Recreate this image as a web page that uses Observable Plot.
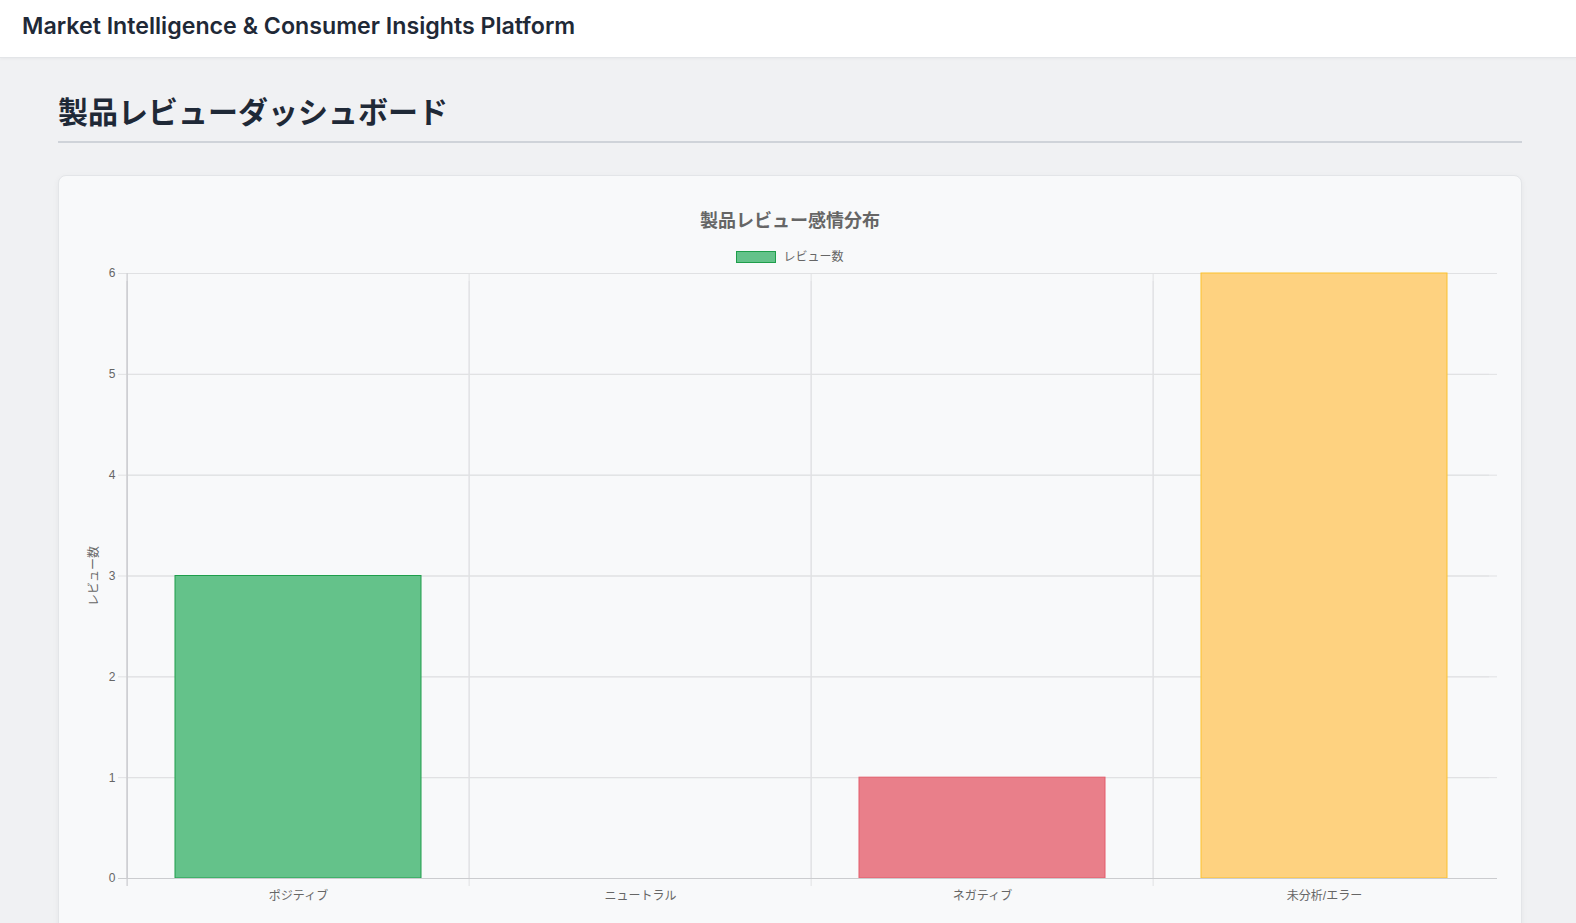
<!DOCTYPE html>
<html><head><meta charset="utf-8">
<script src="https://cdn.jsdelivr.net/npm/d3@7"></script>
<script src="https://cdn.jsdelivr.net/npm/@observablehq/plot@0.6"></script>
<style>
html,body{margin:0;padding:0;}
body{width:1576px;height:923px;overflow:hidden;background:#f0f1f3;position:relative;font-family:"Noto Sans CJK JP",sans-serif;}
#hdr{position:absolute;left:0;top:0;width:1576px;height:57px;background:#fff;border-bottom:1px solid #e3e5e8;box-shadow:0 1px 3px rgba(0,0,0,0.04);}
#hdr span{position:absolute;left:22px;top:12px;font:600 23.2px Inter,"Noto Sans",sans-serif;color:#1f2937;line-height:28px;white-space:nowrap}
#ptitle{position:absolute;left:58px;top:89px;width:1464px;height:52px;border-bottom:2px solid #cfd3d9;font:700 30px "Noto Sans CJK JP",sans-serif;color:#1f2937;line-height:43px}
#card{position:absolute;left:58px;top:175px;width:1462px;height:800px;background:#f8f9fa;border:1px solid #e3e5e8;border-radius:8px;box-shadow:0 2px 6px rgba(0,0,0,0.05)}
#ctitle{position:absolute;left:58px;width:1464px;top:206px;text-align:center;font:700 18px "Noto Sans CJK JP",sans-serif;color:#666;line-height:26px}
#legend{position:absolute;left:58px;width:1464px;top:248px;text-align:center;font:400 12px "Noto Sans CJK JP",sans-serif;color:#666;line-height:16px}
#legend .sw{display:inline-block;width:40px;height:12px;box-sizing:border-box;border:1px solid #1e9e4b;background:#64c28a;vertical-align:middle;margin-right:7px;position:relative;top:-1px}
#chart{position:absolute;left:80px;top:263px}
</style>
</head><body>
<div id="hdr"><span>Market Intelligence &amp; Consumer Insights Platform</span></div>
<div id="ptitle">製品レビューダッシュボード</div>
<div id="card"></div>
<div id="ctitle">製品レビュー感情分布</div>
<div id="legend"><span class="sw"></span><span>レビュー数</span></div>
<div id="chart"></div>
<script>
const categories = ["ポジティブ", "ニュートラル", "ネガティブ", "未分析/エラー"];
const counts = [3, 0, 1, 6];
const fills = ["#64c28a", "#64c28a", "#e97f8a", "#fed280"];
const strokes = ["#1e9e4b", "#1e9e4b", "#e35d6b", "#fbc12d"];
const yTicks = [0, 1, 2, 3, 4, 5, 6];
const yLabel = "レビュー数";

const W = 1430, H = 660, ML = 46, MR = 13, MT = 10, MB = 45;
const step = (W - ML - MR) / categories.length;
const grid = "#e0e1e3", axisC = "#cbcccf";
const data = categories.map((c, i) => ({category: c, count: counts[i], fill: fills[i], stroke: strokes[i]}));

const chart = Plot.plot({
  width: W, height: H,
  marginLeft: ML, marginRight: MR, marginTop: MT, marginBottom: MB,
  style: {background: "transparent", fontSize: "12px", color: "#666", fontFamily: '"Liberation Sans", Arial, "Noto Sans CJK JP", sans-serif'},
  color: {type: "identity"},
  x: {domain: categories, paddingInner: 0.28, paddingOuter: 0.14, tickSize: 0, tickPadding: 13, label: null},
  y: {domain: [0, 6], ticks: yTicks, tickFormat: d => String(d), tickSize: 0, tickPadding: 11, label: yLabel, labelAnchor: "center", labelOffset: 37, labelArrow: "none"},
  marks: [
    Plot.ruleY(yTicks, {stroke: grid}),
    Plot.ruleY(yTicks, {stroke: grid, dx: -8}),
    Plot.ruleX(categories, {stroke: grid, dx: -step / 2}),
    Plot.ruleX(categories, {stroke: grid, dx: -step / 2, dy: 8}),
    Plot.barY(data.filter(d => d.count > 0), {x: "category", y: "count", fill: "fill", stroke: "stroke"}),
    Plot.ruleY([0], {stroke: axisC}),
    Plot.ruleY([0], {stroke: axisC, dx: -8}),
    Plot.ruleX([categories[0]], {stroke: axisC, dx: -step / 2}),
    Plot.ruleX([categories[0]], {stroke: axisC, dx: -step / 2, dy: 8})
  ]
});
document.getElementById("chart").appendChild(chart);
</script>
</body></html>
